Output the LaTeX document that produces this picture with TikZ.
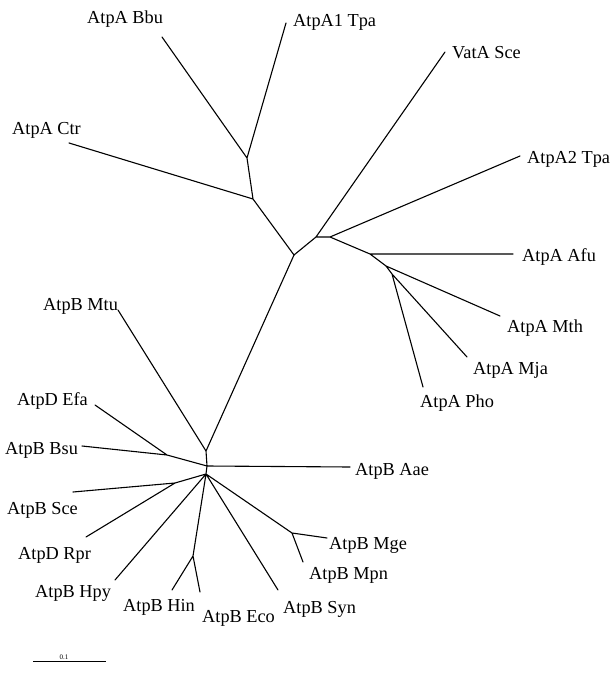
\documentclass[tikz,border=0pt]{standalone}
\usepackage{fontspec}
\setmainfont{Liberation Serif}
\begin{document}
\begin{tikzpicture}[x=1pt,y=-1pt,
  branch/.style={draw=black,line width=1.1pt,line cap=round,line join=round},
  leaf/.style={anchor=base west,inner sep=0pt,font=\fontsize{18.3}{20}\selectfont}]
\useasboundingbox (0,0) rectangle (612,676);
% internal nodes
\coordinate (n1) at (294,255);
\coordinate (n2) at (253,199);
\coordinate (n3) at (247,158);
\coordinate (n4) at (316,237);
\coordinate (n5) at (330,237);
\coordinate (n6) at (370,254);
\coordinate (n7) at (386,266);
\coordinate (n8) at (392,274);
\coordinate (b1) at (206,451);
\coordinate (b2) at (207,466);
\coordinate (b3) at (167,455);
\coordinate (b4) at (206,474);
\coordinate (b5) at (175,483);
\coordinate (b6) at (193,556);
\coordinate (b7) at (292,533);
% leaf ends
\coordinate (eBbu) at (162,37);
\coordinate (eTpa1) at (286,23);
\coordinate (eCtr) at (69,143);
\coordinate (eVat) at (445,52);
\coordinate (eTpa2) at (520,156);
\coordinate (eAfu) at (513,254);
\coordinate (eMth) at (500,316);
\coordinate (eMja) at (467,357);
\coordinate (ePho) at (423,387);
\coordinate (eMtu) at (118,310);
\coordinate (eAae) at (350,467);
\coordinate (eEfa) at (95,405);
\coordinate (eBsu) at (82,446);
\coordinate (eSce) at (73,492);
\coordinate (eRpr) at (86,537);
\coordinate (eHpy) at (115,580);
\coordinate (eHin) at (172,590);
\coordinate (eEco) at (200,592);
\coordinate (eSyn) at (278,590);
\coordinate (eMge) at (327,538);
\coordinate (eMpn) at (303,562);
% labels
\node[leaf] (lBbu) at (87,24) {AtpA Bbu};
\node[leaf] (lTpa1) at (293,27) {AtpA1 Tpa};
\node[leaf] (lVat) at (452,59) {VatA Sce};
\node[leaf] (lTpa2) at (527,164) {AtpA2 Tpa};
\node[leaf] (lCtr) at (12,135) {AtpA Ctr};
\node[leaf] (lAfu) at (522,261) {AtpA Afu};
\node[leaf] (lMth) at (507,332) {AtpA Mth};
\node[leaf] (lMja) at (473,374) {AtpA Mja};
\node[leaf] (lPho) at (420,407) {AtpA Pho};
\node[leaf] (lMtu) at (43,310) {AtpB Mtu};
\node[leaf] (lEfa) at (17,405) {AtpD Efa};
\node[leaf] (lBsu) at (5,454) {AtpB Bsu};
\node[leaf] (lAae) at (355,475) {AtpB Aae};
\node[leaf] (lSce) at (7,514) {AtpB Sce};
\node[leaf] (lRpr) at (18,559) {AtpD Rpr};
\node[leaf] (lHpy) at (35,597) {AtpB Hpy};
\node[leaf] (lHin) at (123,611) {AtpB Hin};
\node[leaf] (lEco) at (202,622) {AtpB Eco};
\node[leaf] (lSyn) at (283,613) {AtpB Syn};
\node[leaf] (lMge) at (329,549) {AtpB Mge};
\node[leaf] (lMpn) at (309,579) {AtpB Mpn};
% branches
\path[branch] (n1) -- (n2) (n2) -- (n3) (n3) -- (eBbu) (n3) -- (eTpa1) (n2) -- (eCtr);
\path[branch] (n1) -- (n4) (n4) -- (n5) (n4) -- (eVat) (n5) -- (eTpa2) (n5) -- (n6)
  (n6) -- (eAfu) (n6) -- (n7) (n7) -- (eMth) (n7) -- (n8) (n8) -- (eMja) (n8) -- (ePho);
\path[branch] (n1) -- (b1) (b1) -- (eMtu) (b1) -- (b2) (b2) -- (eAae) (b2) -- (b3)
  (b3) -- (eEfa) (b3) -- (eBsu) (b2) -- (b4) (b4) -- (b5) (b5) -- (eSce) (b5) -- (eRpr)
  (b4) -- (eHpy) (b4) -- (b6) (b6) -- (eHin) (b6) -- (eEco) (b4) -- (eSyn)
  (b4) -- (b7) (b7) -- (eMge) (b7) -- (eMpn);
% scale bar
\coordinate (s1) at (33,661);
\coordinate (s2) at (106,661);
\draw[line width=0.7pt] (s1) -- (s2);
\node[anchor=base,inner sep=0pt,font=\fontsize{7}{8}\selectfont] (scl) at (64,659) {0.1};
\end{tikzpicture}
\end{document}
